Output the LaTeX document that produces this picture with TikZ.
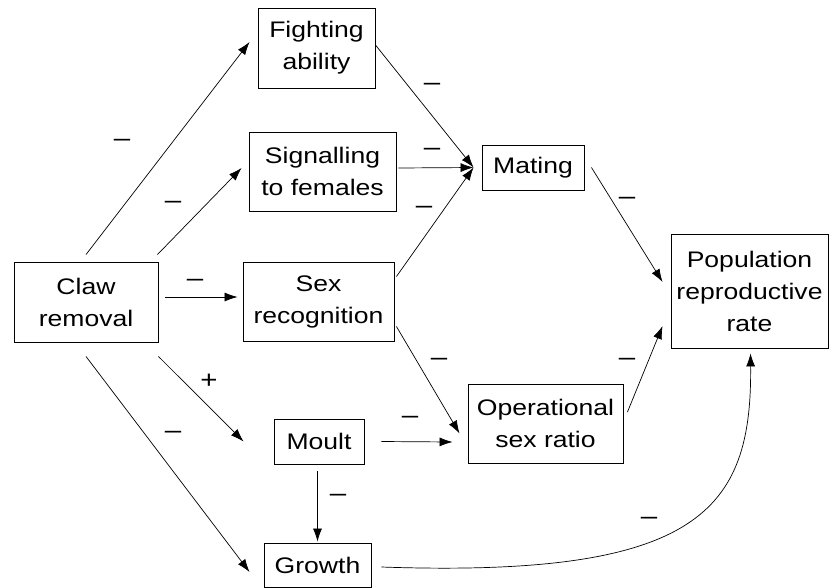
\documentclass[tikz,border=0pt]{standalone}
\usepackage{fontspec}
\setmainfont[FakeStretch=1.18]{Liberation Sans}
\usetikzlibrary{arrows.meta}

\begin{document}
\begin{tikzpicture}[x=1pt, y=-1pt,
	box/.style={draw, line width=0.9pt, align=center, inner sep=0pt, font=\fontsize{22.5}{32}\selectfont},
	arr/.style={-{Latex[length=13pt,width=9pt]}, line width=0.7pt},
	sign/.style={inner sep=0pt, font=\fontsize{25}{25}\selectfont}]
	\useasboundingbox (0,0) rectangle (829,587);

	% draw boxes
	\node[box, minimum width=117pt, minimum height=80pt] (fight) at (316.5,48) {Fighting\\ability};
	\node[box, minimum width=147pt, minimum height=79pt] (sig) at (322.5,171.5) {Signalling\\to females};
	\node[box, minimum width=144pt, minimum height=80pt] (claw) at (86,302) {Claw\\removal};
	\node[box, minimum width=151pt, minimum height=79pt] (sexrec) at (318.5,301.5) {Sex\\recognition};
	\node[box, minimum width=102pt, minimum height=45pt] (mating) at (533,167.5) {Mating};
	\node[box, minimum width=157pt, minimum height=114pt] (pop) at (749.5,291) {Population\\reproductive\\rate};
	\node[box, minimum width=155pt, minimum height=79pt] (osr) at (545.5,423.5) {Operational\\sex ratio};
	\node[box, minimum width=90pt, minimum height=45pt] (moult) at (319,441.5) {Moult};
	\node[box, minimum width=107pt, minimum height=44pt] (growth) at (317.5,565) {Growth};

	% draw arrows out of claw removal
	\draw[arr] ([shift={(0pt,7pt)}]claw.north) -- ([shift={(-8pt,6pt)}]fight.west);
	\draw[arr] ([shift={(-1pt,7pt)}]claw.north east) -- ([shift={(-7pt,3.5pt)}]sig.west);
	\draw[arr] ([shift={(7pt,5pt)}]claw.east) -- ([shift={(-5pt,4.5pt)}]sexrec.west);
	\draw[arr] ([shift={(0pt,-14pt)}]claw.south east) -- ([shift={(-30pt,0pt)}]moult.west);
	\draw[arr] ([shift={(0pt,-14pt)}]claw.south) -- ([shift={(-14pt,-7pt)}]growth.west);

	% draw arrows into mating
	\coordinate (matin) at ([xshift=-8pt]mating.west);
	\draw[arr] ([shift={(0pt,3pt)}]fight.east) -- (matin);
	\draw[arr] ([shift={(2pt,3.5pt)}]sig.east) -- (matin);
	\draw[arr] ([shift={(2pt,25pt)}]sexrec.east) -- (matin);

	% draw arrows into operational sex ratio and growth
	\draw[arr] ([shift={(2pt,-25pt)}]sexrec.east) -- ([shift={(-8pt,-10pt)}]osr.west);
	\draw[arr] ([shift={(17pt,0pt)}]moult.east) -- ([shift={(-15pt,-18.5pt)}]osr.west);
	\draw[arr] ([shift={(-1.5pt,-7pt)}]moult.south) -- ([yshift=1pt]growth.north);

	% draw arrows into population reproductive rate
	\draw[arr] ([shift={(7pt,0pt)}]mating.east) -- ([shift={(-8pt,9pt)}]pop.west);
	\draw[arr] ([shift={(4pt,11.5pt)}]osr.east) -- ([shift={(-8pt,-35pt)}]pop.west);
	\draw[arr] ([shift={(10pt,-2pt)}]growth.east) .. controls (700,578) and (752,510) .. ([shift={(1pt,-5pt)}]pop.south);

	% draw the signs
	\node[sign] (sfight) at (122,143) {–};
	\node[sign] (ssig) at (173,205) {–};
	\node[sign] (ssexrec) at (195,283) {–};
	\node[sign] (smoult) at (209,381) {+};
	\node[sign] (sgrowth) at (173,435) {–};
	\node[sign] (sfightmat) at (432,87) {–};
	\node[sign] (ssigmat) at (432,152) {–};
	\node[sign] (ssexmat) at (424,210) {–};
	\node[sign] (ssexosr) at (439,362) {–};
	\node[sign] (smoultosr) at (410,420) {–};
	\node[sign] (smoultgr) at (338,498) {–};
	\node[sign] (smatpop) at (627,201) {–};
	\node[sign] (sosrpop) at (627,362) {–};
	\node[sign] (sgrpop) at (649,521) {–};
\end{tikzpicture}
\end{document}
